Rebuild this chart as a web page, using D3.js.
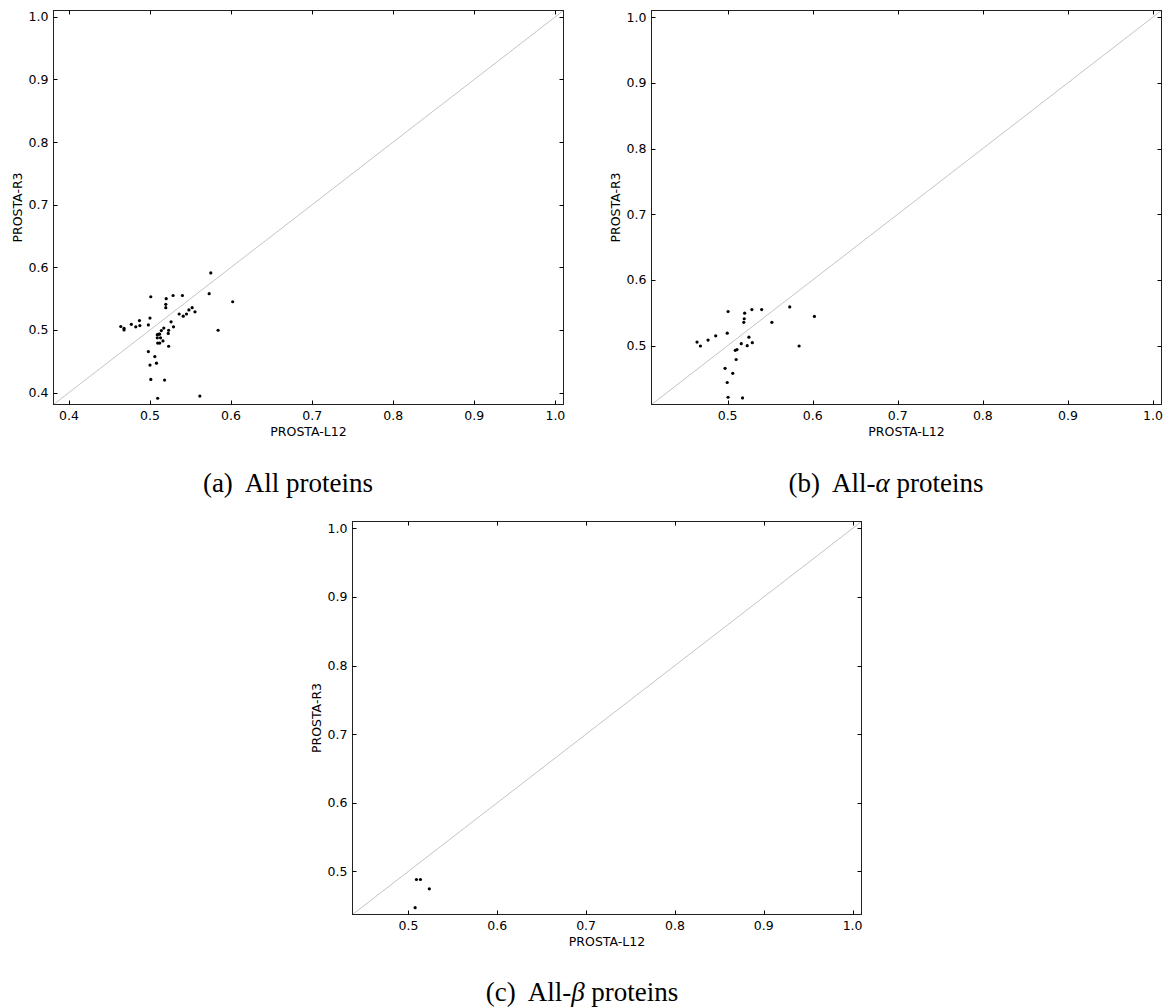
<!DOCTYPE html>
<html>
<head>
<meta charset="utf-8">
<script src="https://cdn.jsdelivr.net/npm/d3@7"></script>
<style>
  body { margin: 0; background: #fff; }
  svg { display: block; }
</style>
</head>
<body>
<svg id="chart" width="1165" height="1007"></svg>
<script>
// panel (a) all proteins
const allX = [0.575, 0.573, 0.602, 0.501, 0.520, 0.5285, 0.540, 0.5195, 0.5195, 0.536,
  0.541, 0.545, 0.548, 0.552, 0.5555, 0.500, 0.464, 0.468, 0.468, 0.477,
  0.4825, 0.487, 0.4875, 0.498, 0.526, 0.529, 0.523, 0.517, 0.514, 0.511,
  0.509, 0.512, 0.509, 0.513, 0.5225, 0.5095, 0.512, 0.516, 0.523, 0.498,
  0.506, 0.508, 0.500, 0.501, 0.518, 0.5095, 0.5615, 0.584];
const allY = [0.591, 0.558, 0.545, 0.553, 0.550, 0.555, 0.555, 0.541, 0.5355, 0.5255,
  0.522, 0.5255, 0.532, 0.5355, 0.529, 0.519, 0.5055, 0.5025, 0.500, 0.509,
  0.505, 0.515, 0.507, 0.508, 0.513, 0.505, 0.4995, 0.503, 0.499, 0.4935,
  0.4925, 0.4935, 0.4875, 0.4875, 0.4945, 0.479, 0.479, 0.4825, 0.474, 0.4655,
  0.4575, 0.447, 0.444, 0.421, 0.420, 0.391, 0.3945, 0.4995];

// panel (b) all-alpha proteins
const alphaX = [0.5005, 0.520, 0.5285, 0.540, 0.573, 0.602, 0.5195, 0.519, 0.552, 0.4995,
  0.464, 0.468, 0.477, 0.486, 0.525, 0.529, 0.516, 0.523, 0.509, 0.511,
  0.510, 0.497, 0.506, 0.4995, 0.5005, 0.5175, 0.584];
const alphaY = [0.552, 0.5495, 0.555, 0.555, 0.559, 0.5445, 0.541, 0.5355, 0.5355, 0.519,
  0.5055, 0.4995, 0.5085, 0.515, 0.513, 0.5045, 0.503, 0.500, 0.493, 0.494,
  0.479, 0.4655, 0.458, 0.444, 0.4215, 0.4205, 0.4995];

// panel (c) all-beta proteins
const betaX = [0.509, 0.5135, 0.5235, 0.5075];
const betaY = [0.488, 0.488, 0.4745, 0.447];

const tickValues = [0.4, 0.5, 0.6, 0.7, 0.8, 0.9, 1.0];
const xTitle = "PROSTA-L12";
const yTitle = "PROSTA-R3";

const svg = d3.select("#chart");

function drawPanel(xs, ys, box) {
  const lo = d3.min(xs.concat(ys)) - 0.01;
  const hi = 1.01;
  const x = d3.scaleLinear().domain([lo, hi]).range([box.left, box.right]);
  const y = d3.scaleLinear().domain([lo, hi]).range([box.bottom, box.top]);
  const ticks = tickValues.filter((t) => t >= lo && t <= hi);
  const g = svg.append("g");
  const T = 4; // inward tick length

  // diagonal y = x
  g.append("line")
    .attr("x1", x(lo)).attr("y1", y(lo))
    .attr("x2", x(hi)).attr("y2", y(hi))
    .attr("stroke", "#c4c4c4")
    .attr("stroke-width", 1);

  g.selectAll("circle")
    .data(d3.range(xs.length))
    .enter()
    .append("circle")
    .attr("cx", (i) => x(xs[i]))
    .attr("cy", (i) => y(ys[i]))
    .attr("r", 1.6)
    .attr("fill", "#000");

  g.append("rect")
    .attr("x", box.left).attr("y", box.top)
    .attr("width", box.right - box.left)
    .attr("height", box.bottom - box.top)
    .attr("fill", "none")
    .attr("stroke", "#222")
    .attr("stroke-width", 1);

  // ticks on all four sides, pointing in
  ticks.forEach(function (t) {
    const px = Math.round(x(t)) + 0.5;
    const py = Math.round(y(t)) + 0.5;
    g.append("line").attr("x1", px).attr("x2", px)
      .attr("y1", box.bottom).attr("y2", box.bottom - T).attr("stroke", "#000");
    g.append("line").attr("x1", px).attr("x2", px)
      .attr("y1", box.top).attr("y2", box.top + T).attr("stroke", "#000");
    g.append("line").attr("y1", py).attr("y2", py)
      .attr("x1", box.left).attr("x2", box.left + T).attr("stroke", "#000");
    g.append("line").attr("y1", py).attr("y2", py)
      .attr("x1", box.right).attr("x2", box.right - T).attr("stroke", "#000");
    g.append("text")
      .attr("x", x(t)).attr("y", box.bottom + 15)
      .attr("text-anchor", "middle")
      .attr("font-family", "DejaVu Sans")
      .attr("font-size", 12.5)
      .text(d3.format(".1f")(t));
    g.append("text")
      .attr("x", box.left - 5).attr("y", y(t) + 4.5)
      .attr("text-anchor", "end")
      .attr("font-family", "DejaVu Sans")
      .attr("font-size", 12.5)
      .text(d3.format(".1f")(t));
  });

  g.append("text")
    .attr("x", (box.left + box.right) / 2).attr("y", box.bottom + 31)
    .attr("text-anchor", "middle")
    .attr("font-family", "DejaVu Sans")
    .attr("font-size", 12.5)
    .text(xTitle);
  g.append("text")
    .attr("transform", "translate(" + (box.left - 32) + "," + (box.top + box.bottom) / 2 + ") rotate(-90)")
    .attr("text-anchor", "middle")
    .attr("font-family", "DejaVu Sans")
    .attr("font-size", 12.5)
    .text(yTitle);

  // caption
  const cap = svg.append("text")
    .attr("x", box.capX).attr("y", box.capY)
    .attr("text-anchor", "middle")
    .attr("font-family", "Liberation Serif")
    .attr("font-size", 27)
    .style("white-space", "pre");
  cap.append("tspan").text(box.cap[0]);
  if (box.cap[1]) {
    cap.append("tspan").attr("font-style", "italic").text(box.cap[1]);
    cap.append("tspan").text(box.cap[2]);
  }
}

drawPanel(allX, allY, { left: 53.5, right: 563.5, top: 10.5, bottom: 404.5,
  capX: 288, capY: 492, cap: ["(a)  All proteins"] });
drawPanel(alphaX, alphaY, { left: 651.5, right: 1161.5, top: 10.5, bottom: 404.5,
  capX: 886, capY: 492, cap: ["(b)  All-", "α", " proteins"] });
drawPanel(betaX, betaY, { left: 352.5, right: 861.5, top: 521.5, bottom: 914.5,
  capX: 582, capY: 1001, cap: ["(c)  All-", "β", " proteins"] });
</script>
</body>
</html>
